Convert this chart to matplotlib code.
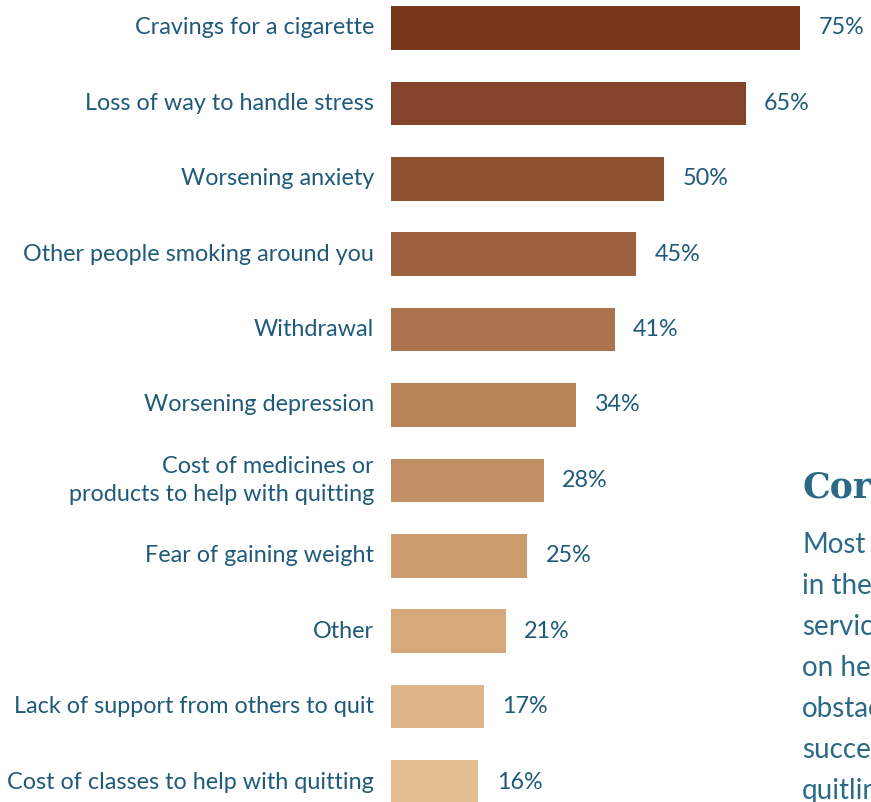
import matplotlib.pyplot as plt

# data (top to bottom)
categories = [
    "Cravings for a cigarette",
    "Loss of way to handle stress",
    "Worsening anxiety",
    "Other people smoking around you",
    "Withdrawal",
    "Worsening depression",
    "Cost of medicines or\nproducts to help with quitting",
    "Fear of gaining weight",
    "Other",
    "Lack of support from others to quit",
    "Cost of classes to help with quitting",
]
percent = [75, 65, 50, 45, 41, 34, 28, 25, 21, 17, 16]
bar_colors = ["#78361a", "#84432a", "#8f5233", "#9d6340", "#ab744e", "#b88559",
              "#c28e64", "#cc9c6f", "#d6a97a", "#ddb586", "#e3bf90"]

side_heading = "Core"
side_lines = ["Most", "in the", "services", "on help", "obstacles", "success", "quitline"]

text_color = "#1f5a7a"

plt.rcParams["font.family"] = ["Lato", "DejaVu Sans"]

fig = plt.figure(figsize=(8.71, 8.02), dpi=100)
ax = fig.add_axes([391 / 871, 0, 480 / 871, 1])

ypos = list(range(len(categories)))
ax.barh(ypos, percent, height=0.58, color=bar_colors)

for y, v in zip(ypos, percent):
    ax.text(v + 3.4, y, f"{v}%", va="center", ha="left", fontsize=16.8, color=text_color)
    ax.text(-3.1, y, categories[y], va="center", ha="right", fontsize=16.8,
            color=text_color, linespacing=1.4, clip_on=False)

ax.set_xlim(0, 88)
ax.set_ylim(10.265, -0.371)
ax.axis("off")

# side text on the right, cut off by the figure edge as in the source
fig.text(802 / 871, 1 - 488 / 802, side_heading, fontsize=25, fontweight="bold",
         family="DejaVu Serif", color="#2b6a86", va="center", ha="left")
for i, line in enumerate(side_lines):
    fig.text(802 / 871, 1 - (545 + 41 * i) / 802, line, fontsize=20,
             color="#2b6a86", va="center", ha="left")

fig.savefig("out.png", dpi=100)
